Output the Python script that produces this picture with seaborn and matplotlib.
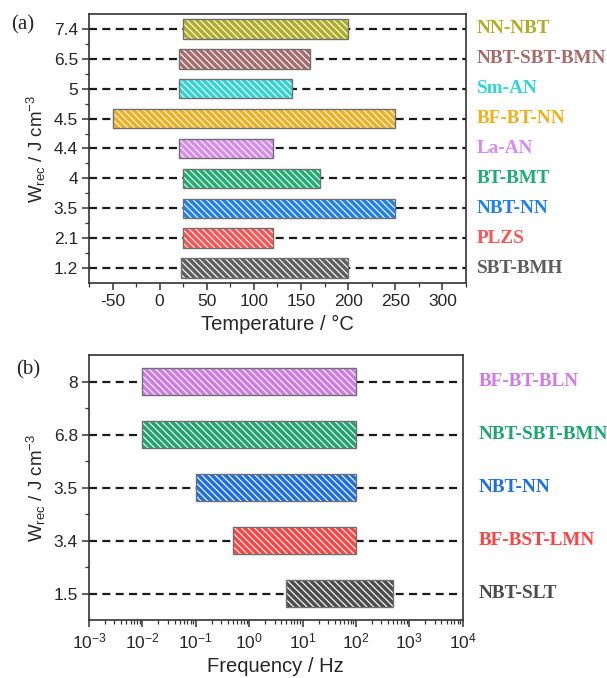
import numpy as np
import pandas as pd
import matplotlib
matplotlib.use("Agg")
import matplotlib.pyplot as plt
import seaborn as sns
from matplotlib.ticker import FixedLocator, MultipleLocator, LogLocator, NullFormatter

# ---------------- data ----------------
temp_labels = ["NN-NBT", "NBT-SBT-BMN", "Sm-AN", "BF-BT-NN", "La-AN", "BT-BMT", "NBT-NN", "PLZS", "SBT-BMH"]
temp_wrec = ["7.4", "6.5", "5", "4.5", "4.4", "4", "3.5", "2.1", "1.2"]
temp_start = [25, 20, 20, -50, 20, 25, 25, 25, 23]
temp_end = [200, 160, 140, 250, 120, 170, 250, 120, 200]
temp_colors = ["#B0AE22", "#A86A6A", "#2ED6D6", "#EFB01C", "#D88AF0", "#1DAF72", "#1E7FEE", "#FF5252", "#5E5E5E"]

freq_labels = ["BF-BT-BLN", "NBT-SBT-BMN", "NBT-NN", "BF-BST-LMN", "NBT-SLT"]
freq_wrec = ["8", "6.8", "3.5", "3.4", "1.5"]
freq_start = [0.01, 0.01, 0.1, 0.5, 5]
freq_end = [100, 100, 100, 100, 500]
freq_colors = ["#D07AE8", "#1DA66C", "#1C6FE6", "#FF4242", "#4C4C4C"]

sns.set_style("ticks")
plt.rcParams["font.family"] = ["Liberation Sans", "DejaVu Sans"]
plt.rcParams["mathtext.fontset"] = "custom"
plt.rcParams["mathtext.rm"] = "Liberation Sans"
plt.rcParams["mathtext.it"] = "Liberation Sans:italic"
plt.rcParams["hatch.linewidth"] = 0.9
plt.rcParams["axes.edgecolor"] = "#333333"
plt.rcParams["axes.unicode_minus"] = False

fig = plt.figure(figsize=(6.07, 6.78), dpi=100)
ax1 = fig.add_axes([0.1466, 0.5826, 0.7677 - 0.1466, 0.9794 - 0.5826])
ax2 = fig.add_axes([0.1466, 0.0855, 0.7623 - 0.1466, 0.4764 - 0.0855])

dash = (0, (3.6, 2.4))


def draw_panel(ax, labels, wrec, start, end, colors, height):
    n = len(labels)
    df = pd.DataFrame({"label": labels, "wrec": wrec, "start": start, "end": end,
                       "pos": np.arange(n)[::-1]})
    for _, r in df.iterrows():
        ax.axhline(r["pos"], color="#1a1a1a", lw=1.6, ls=dash, zorder=1)
    width = df["end"] - df["start"]
    ax.barh(df["pos"], width, left=df["start"], height=height, color=colors,
            edgecolor="#F4F4F4", linewidth=0, hatch="\\\\\\\\\\", zorder=2)
    ax.barh(df["pos"], width, left=df["start"], height=height, fill=False,
            edgecolor="#707070", linewidth=1.0, zorder=3)
    ax.set_ylim(-0.5, n - 0.5)
    ax.set_yticks(df["pos"])
    ax.set_yticklabels(df["wrec"])
    ax.yaxis.set_minor_locator(FixedLocator(np.arange(n - 1) + 0.5))
    return df


df1 = draw_panel(ax1, temp_labels, temp_wrec, temp_start, temp_end, temp_colors, 0.65)
ax1.set_xlim(-75, 325)
ax1.xaxis.set_major_locator(MultipleLocator(50))
ax1.xaxis.set_minor_locator(MultipleLocator(25))
ax1.set_xlabel("Temperature / °C", fontsize=14.5, labelpad=4)
for (_, r), c in zip(df1.iterrows(), temp_colors):
    ax1.text(1.028, r["pos"], r["label"], transform=ax1.get_yaxis_transform(),
             color=c, fontsize=13.8, fontweight="bold", family="Liberation Serif",
             va="center", ha="left")

df2 = draw_panel(ax2, freq_labels, freq_wrec, freq_start, freq_end, freq_colors, 0.5)
ax2.set_xscale("log")
ax2.set_xlim(1e-3, 1e4)
ax2.xaxis.set_major_locator(LogLocator(base=10, numticks=20))
ax2.xaxis.set_minor_locator(LogLocator(base=10, subs=np.arange(2, 10), numticks=20))
ax2.xaxis.set_minor_formatter(NullFormatter())
ax2.set_xlabel("Frequency / Hz", fontsize=14.5, labelpad=4)
for (_, r), c in zip(df2.iterrows(), freq_colors):
    ax2.text(1.042, r["pos"], r["label"], transform=ax2.get_yaxis_transform(),
             color=c, fontsize=13.8, fontweight="bold", family="Liberation Serif",
             va="center", ha="left")

for ax in (ax1, ax2):
    ax.set_ylabel("W$_{\\rm rec}$ / J cm$^{-3}$", fontsize=13.5, labelpad=4)
    ax.tick_params(axis="both", which="major", direction="out", length=5, width=1.1,
                   labelsize=12.5, color="#333333", pad=3)
    ax.tick_params(axis="both", which="minor", direction="out", length=3, width=0.9,
                   color="#333333")
    for s in ax.spines.values():
        s.set_linewidth(1.2)

fig.text(0.019, 0.963, "(a)", fontsize=15, family="Liberation Serif", va="center")
fig.text(0.026, 0.455, "(b)", fontsize=15, family="Liberation Serif", va="center")

fig.savefig("out.png", dpi=100)
